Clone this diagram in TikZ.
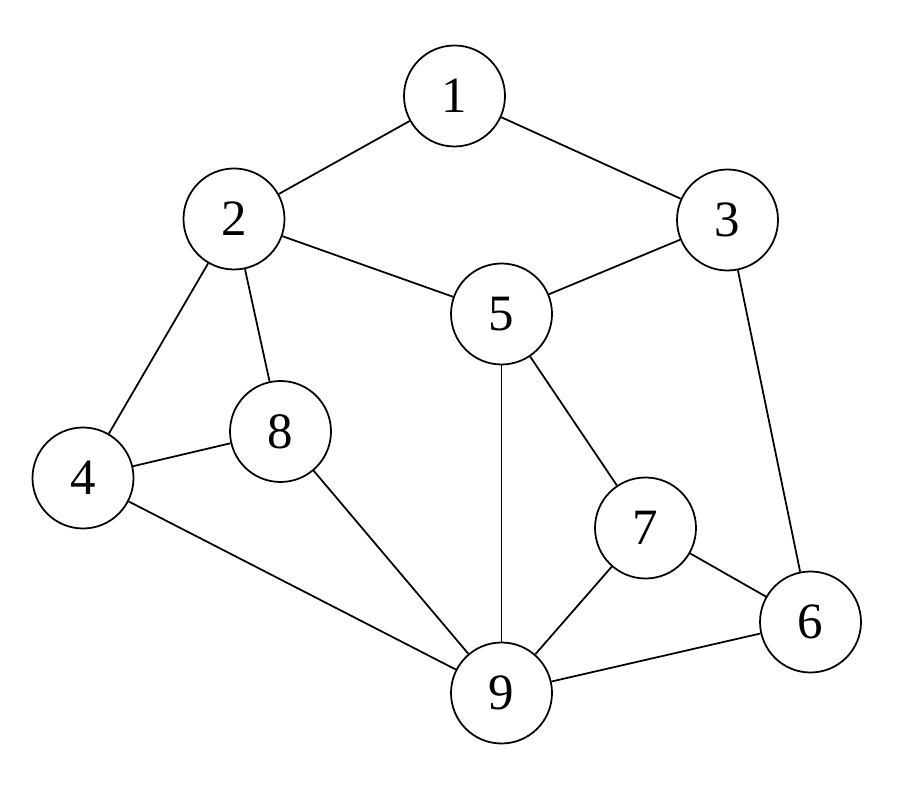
\documentclass[tikz,border=0pt]{standalone}
\usepackage{fontspec}
\setmainfont{Liberation Serif}
\usepackage{tikz}
\usetikzlibrary{arrows,positioning}
\tikzstyle{vertex}=[draw,circle,line width=1pt,minimum size=2.02cm,inner sep=0pt,font=\fontsize{29}{34}\selectfont]
\tikzstyle{every edge}=[draw,line width=1pt]

\begin{document}
\begin{tikzpicture}
  \useasboundingbox (0,0) rectangle (18.14,15.74);
  \node[vertex]        (v1) at (9.09,13.82) {1};
  \node[vertex]        (v2) at (4.68,11.36) {2};
  \node[vertex]        (v3) at (14.55,11.34) {3};
  \node[vertex]        (v5) at (10.03,9.46) {5};
  \node[vertex]        (v8) at (5.61,7.11) {8};
  \node[vertex]        (v4) at (1.66,6.18) {4};
  \node[vertex]        (v7) at (12.91,5.18) {7};
  \node[vertex]        (v6) at (16.21,3.30) {6};
  \node[vertex]        (v9) at (10.03,1.88) {9};

  \path (v1) edge (v2)
             edge (v3)
        (v2) edge (v5)
             edge (v4)
             edge (v8)
        (v3) edge (v5)
             edge (v6)
        (v4) edge (v8)
             edge (v9)
        (v8) edge (v9)
        (v5) edge (v9)
             edge (v7)
        (v7) edge (v9)
             edge (v6)
        (v9) edge (v6);
\end{tikzpicture}
\end{document}
